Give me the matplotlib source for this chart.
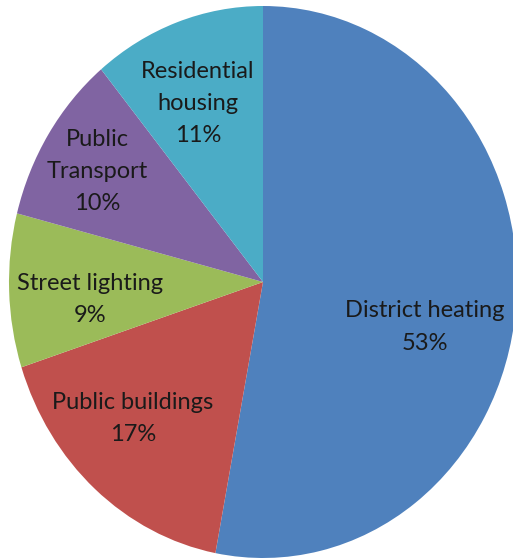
import matplotlib
matplotlib.use("Agg")
import matplotlib.pyplot as plt

# energy use by sector
sectors = ["District heating", "Public buildings", "Street lighting",
           "Public\nTransport", "Residential\nhousing"]
shares = [53, 17, 9, 10, 11]
colors = ["#4F81BD", "#C0504D", "#9BBB59", "#8064A2", "#4BACC6"]

# where each label block sits, in pie units
label_xy = [(0.638, -0.163), (-0.512, -0.493), (-0.681, -0.062),
            (-0.654, 0.399), (-0.256, 0.647)]

plt.rcParams['font.family'] = ['Lato', 'DejaVu Sans']

fig = plt.figure(figsize=(5.13, 5.58), dpi=100)
ax = fig.add_axes([0, 0, 1, 1])

ax.pie(shares, colors=colors, startangle=90, counterclock=False,
       wedgeprops=dict(linewidth=0))
ax.set_aspect('auto')
# pie is a little taller than wide
ax.set_xlim(-263 / 254, (513 - 263) / 254)
ax.set_ylim(-(558 - 282) / 276, 282 / 276)
ax.axis('off')

for name, val, (x, y) in zip(sectors, shares, label_xy):
    ax.text(x, y, f"{name}\n{val}%", ha='center', va='center',
            fontsize=17, color='#1a1a1a', linespacing=1.65)

fig.savefig("out.png", dpi=100)
